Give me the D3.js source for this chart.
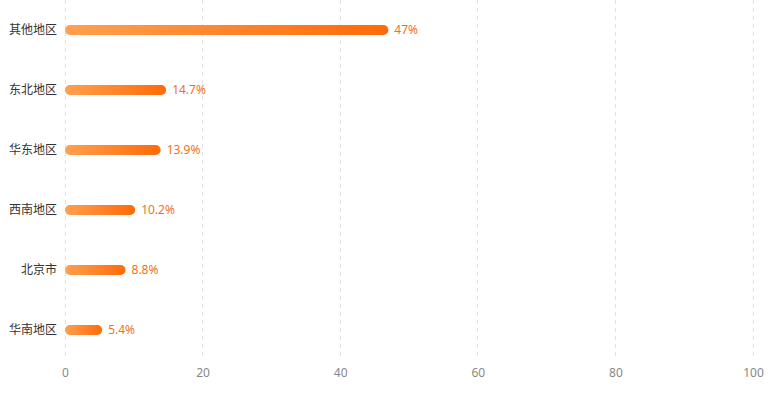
<!DOCTYPE html>
<html><head><meta charset="utf-8">
<script src="https://cdn.jsdelivr.net/npm/d3@7"></script>
<style>body{margin:0;background:#fff;}svg{display:block;font-family:"Noto Sans CJK SC","Noto Sans",sans-serif;}</style>
</head><body>
<svg id="c" width="781" height="395"></svg>
<script>
const categories = ["其他地区","东北地区","华东地区","西南地区","北京市","华南地区"];
const values = [47, 14.7, 13.9, 10.2, 8.8, 5.4];
const labels = ["47%","14.7%","13.9%","10.2%","8.8%","5.4%"];
const xTicks = [0,20,40,60,80,100];

const svg = d3.select("#c");
const m = {left:65, right:28, top:0, bottom:35};
const W = 781, H = 395;
const x = d3.scaleLinear().domain([0,100]).range([m.left, W-m.right]);
const y = d3.scaleBand().domain(categories).range([m.top, H-m.bottom]);

const defs = svg.append("defs");
const g = defs.append("linearGradient").attr("id","grad").attr("x1","0%").attr("x2","100%").attr("y1","0%").attr("y2","0%");
g.append("stop").attr("offset","0%").attr("stop-color","#FFA04F");
g.append("stop").attr("offset","100%").attr("stop-color","#FF6A08");

// grid
svg.append("g").selectAll("line").data(xTicks).join("line")
  .attr("x1",d=>x(d)).attr("x2",d=>x(d)).attr("y1",0).attr("y2",H-m.bottom)
  .attr("stroke","#e3e3e3").attr("stroke-dasharray","4,4").attr("stroke-width",1)
  .attr("shape-rendering","crispEdges");

// x axis
const ax = svg.append("g").attr("transform",`translate(0,${H-m.bottom})`)
  .call(d3.axisBottom(x).tickValues(xTicks).tickSize(0).tickPadding(8));
ax.select(".domain").remove();
ax.selectAll("text").attr("fill","#888").attr("font-size",12).attr("font-family","\"Noto Sans\",sans-serif");

// y labels
svg.append("g").selectAll("text").data(categories).join("text")
  .attr("x",m.left-8).attr("y",d=>y(d)+y.bandwidth()/2).attr("dy","0.35em")
  .attr("text-anchor","end").attr("fill","#333").attr("font-size",12).text(d=>d);

const bh = 10;
svg.append("g").selectAll("rect").data(values).join("rect")
  .attr("x",x(0)).attr("y",(d,i)=>y(categories[i])+y.bandwidth()/2-bh/2)
  .attr("width",d=>x(d)-x(0)).attr("height",bh).attr("rx",bh/2)
  .attr("fill","url(#grad)");

svg.append("g").selectAll("text").data(values).join("text")
  .attr("x",d=>x(d)+6).attr("y",(d,i)=>y(categories[i])+y.bandwidth()/2).attr("dy","0.35em")
  .attr("fill","#F0711C").attr("font-size",12).attr("font-family","\"Noto Sans\",sans-serif")
  .text((d,i)=>labels[i]);
</script>
</body></html>
